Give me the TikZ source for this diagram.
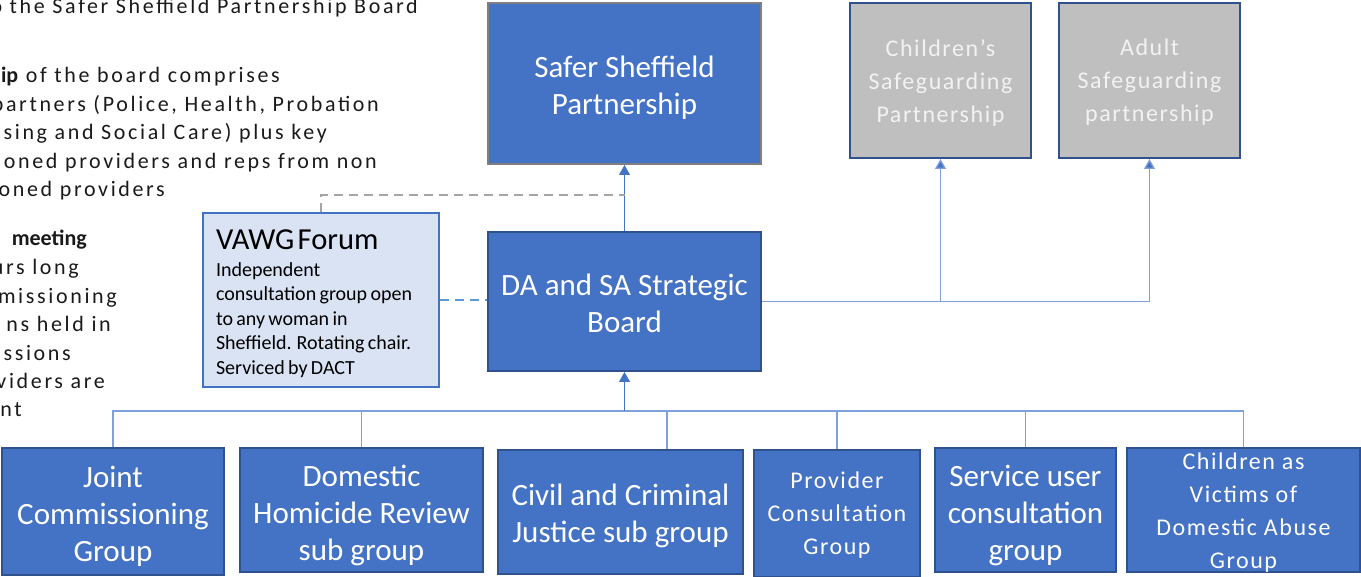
\documentclass[tikz,border=0pt]{standalone}
\usepackage{fontspec}
\setmainfont{Carlito}
\newfontfamily\lsfont[LetterSpace=12]{Carlito}
\newfontfamily\lsbox[LetterSpace=6.5]{Carlito}
\usetikzlibrary{arrows.meta}
\definecolor{blu}{HTML}{4472C4}
\definecolor{bdr}{HTML}{2F528F}
\definecolor{gbox}{HTML}{BFBFBF}
\definecolor{gbdr}{HTML}{7F7F7F}
\definecolor{lblu}{HTML}{DAE3F3}
\definecolor{conn}{HTML}{7FA0DA}
\definecolor{dashb}{HTML}{5B9BD5}
\definecolor{dashg}{HTML}{A5A5A5}
\definecolor{txt}{HTML}{1A1A1A}
\tikzset{
  boxbase/.style={rectangle, draw=bdr, line width=2pt, fill=blu, inner sep=0pt},
  graybox/.style={boxbase, fill=gbox},
  bigtxt/.style={inner sep=0pt, align=center, text=white, font=\fontsize{31}{37}\selectfont},
  smalltxt/.style={inner sep=0pt, align=center, text=white, font=\lsbox\fontsize{24}{33}\selectfont},
  graytxt/.style={smalltxt, text=white!95!black},
  lefttxt/.style={anchor=base east, inner sep=0pt, text=txt, font=\lsfont\fontsize{22}{26}\selectfont},
  arr/.style={draw=blu, line width=1.3pt, -{Triangle[width=11pt,length=10pt]}},
  lconn/.style={draw=conn, line width=1.3pt},
  tipconn/.style={lconn, -{Triangle[width=11pt,length=10pt,fill=blu]}},
  dashblue/.style={draw=dashb, line width=2pt, dash pattern=on 9pt off 6pt},
  dashgray/.style={draw=dashg, line width=2pt, dash pattern=on 9pt off 6pt},
}
\begin{document}
\begin{tikzpicture}[x=1pt,y=-1pt]
\useasboundingbox (0,0) rectangle (1361,577);
\clip (0,0) rectangle (1361,577);
% left text (cut off at the left edge)
\node[lefttxt] (l1) at (418,14) {o the Safer Sheffield Partnership Board};
\node[lefttxt] (l2) at (280,83) {{\normalfont\bfseries hip} of the board comprises};
\node[lefttxt] (l3) at (379,111.5) {partners (Police, Health, Probation};
\node[lefttxt] (l4) at (327,140) {sing and Social Care) plus key};
\node[lefttxt] (l5) at (377,168.5) {oned providers and reps from non};
\node[lefttxt] (l6) at (165,197) {oned providers};
\node[lefttxt] (l7) at (87,246) {{\normalfont\bfseries meeting}};
\node[lefttxt] (l8) at (79,275) {urs long};
\node[lefttxt] (l9) at (117,304) {missioning};
\node[lefttxt] (l10) at (111,332) {ns held in};
\node[lefttxt] (l11) at (71,361) {ssions};
\node[lefttxt] (l12) at (105,389) {viders are};
\node[lefttxt] (l13) at (22,417) {nt};
% top boxes
\node[boxbase, draw=gbdr, minimum width=273pt, minimum height=161pt] (ssp) at (624.5,83.5) {};
\node[bigtxt] (ssp-t) at ([yshift=-4.5pt]ssp.center) {Safer Sheffield\\Partnership};
\node[graybox, minimum width=181pt, minimum height=155pt] (csp) at (940.5,80.5) {};
\node[graytxt] (csp-t) at ([yshift=-2pt]csp.center) {Children’s\\Safeguarding\\Partnership};
\node[graybox, minimum width=181pt, minimum height=155pt] (asp) at (1149.5,80.5) {};
\node[graytxt] (asp-t) at ([yshift=-2pt]asp.center) {Adult\\Safeguarding\\partnership};
\node[boxbase, minimum width=273pt, minimum height=139pt] (da) at (624.5,301.5) {};
\node[bigtxt] (da-t) at ([yshift=-1.5pt]da.center) {DA and SA Strategic\\Board};
\node[rectangle, draw=blu, line width=2pt, fill=lblu, inner sep=0pt, minimum width=236pt, minimum height=174pt] (vawg) at (321,300) {};
\node[inner sep=0pt, text=black, text width=210pt, align=left] (vawg-t) at ([yshift=-3.5pt]vawg.center)
  {{\fontsize{30.5}{34}\selectfont VAWG Forum\par}\vspace{2pt}{\fontsize{20}{24.5}\selectfont Independent\\consultation group open\\to any woman in\\Sheffield. Rotating chair.\\Serviced by DACT\par}};
% bottom boxes
\node[boxbase, minimum width=222pt, minimum height=127pt] (jcg) at (113,511.5) {};
\node[bigtxt] (jcg-t) at ([yshift=-5pt]jcg.center) {Joint\\Commissioning\\Group};
\node[boxbase, minimum width=243pt, minimum height=124pt] (dhr) at (361.5,510) {};
\node[bigtxt] (dhr-t) at ([yshift=-5pt]dhr.center) {Domestic\\Homicide Review\\sub group};
\node[boxbase, minimum width=245pt, minimum height=124pt] (ccj) at (620.5,512) {};
\node[bigtxt] (ccj-t) at ([yshift=-4pt]ccj.center) {Civil and Criminal\\Justice sub group};
\node[boxbase, minimum width=166pt, minimum height=127pt] (pcg) at (837,513.5) {};
\node[smalltxt] (pcg-t) at ([yshift=-2pt]pcg.center) {Provider\\Consultation\\Group};
\node[boxbase, minimum width=181pt, minimum height=124pt] (suc) at (1025.5,510) {};
\node[bigtxt] (suc-t) at ([yshift=-5pt]suc.center) {Service user\\consultation\\group};
\node[boxbase, minimum width=233pt, minimum height=124pt] (cvd) at (1243.5,510) {};
\node[smalltxt] (cvd-t) at ([yshift=-3pt]cvd.center) {Children as\\Victims of\\Domestic Abuse\\Group};
% connectors
\coordinate (bus) at (624.5,411);
\coordinate (gj) at (624.5,195);
\draw[lconn] (jcg.north) |- (bus);
\draw[lconn] (dhr.north) |- (bus);
\draw[lconn] ([xshift=46.5pt]ccj.north) |- (bus);
\draw[lconn] (pcg.north) |- (bus);
\draw[lconn] (suc.north) |- (bus);
\draw[lconn] (cvd.north) |- (bus);
\draw[arr] (bus) -- (da.south);
\draw[arr, line width=1pt] (da.north) -- (ssp.south);
\draw[tipconn] (da.east) -| (csp.south);
\draw[tipconn] (da.east) -| (asp.south);
\draw[dashblue] (vawg.east) -- (vawg.east -| da.west);
\draw[dashgray] (vawg.north) |- (gj);
\end{tikzpicture}
\end{document}
